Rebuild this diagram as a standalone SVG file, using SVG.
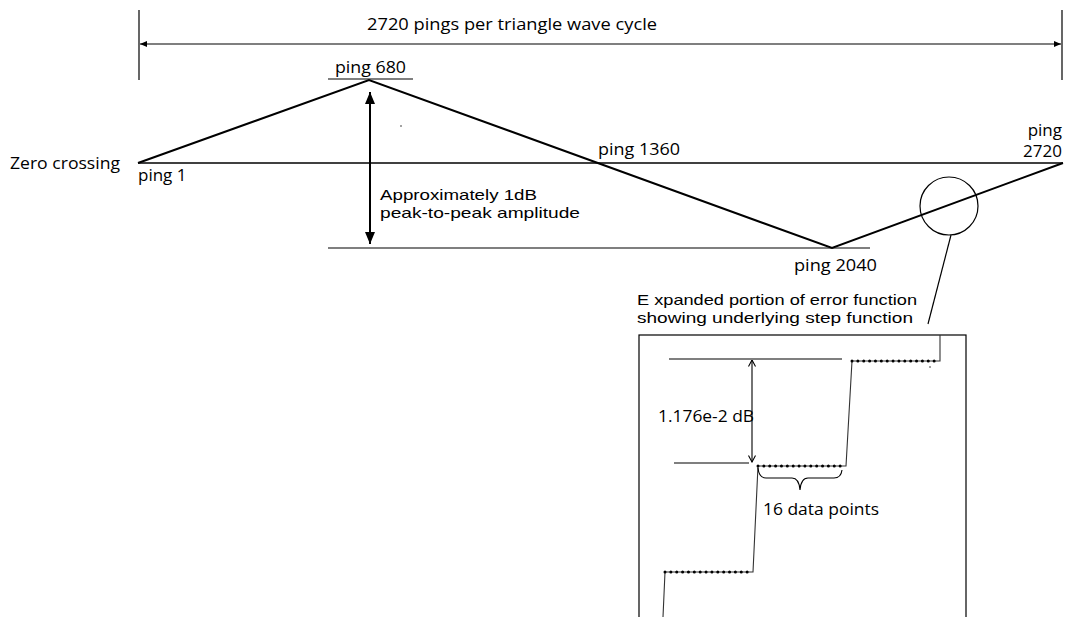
<svg xmlns="http://www.w3.org/2000/svg" width="1069" height="617" viewBox="0 0 1069 617">
<style>
text{font-family:"Open Sans","Liberation Sans",sans-serif;fill:#000}
.t17{font-size:17px}
.t16{font-size:16px}
.tl{font-family:"Liberation Sans",Arial,sans-serif;font-size:15px}
.thin{stroke:#000;stroke-width:1.2;fill:none}
.mid{stroke:#000;stroke-width:1.6;fill:none}
.thick{stroke:#000;stroke-width:2;fill:none}
.dots{stroke:#000;stroke-width:3;stroke-linecap:round;stroke-dasharray:0 5.867;fill:none}
</style>
<defs>
<marker id="smallHead" viewBox="0 0 8 8" refX="7" refY="4" markerWidth="8" markerHeight="8" markerUnits="userSpaceOnUse" orient="auto-start-reverse">
<path d="M0,1 L7,4 L0,7 Z" fill="#000"/>
</marker>
<marker id="bigHead" viewBox="0 0 12 12" refX="12" refY="6" markerWidth="12" markerHeight="12" markerUnits="userSpaceOnUse" orient="auto-start-reverse">
<path d="M0,1 L12,6 L0,11 Z" fill="#000"/>
</marker>
<marker id="openHead" viewBox="0 0 8 8" refX="7.5" refY="4" markerWidth="8" markerHeight="8" markerUnits="userSpaceOnUse" orient="auto-start-reverse">
<path d="M1,0.5 L7.5,4 L1,7.5" fill="none" stroke="#000" stroke-width="1.1"/>
</marker>
</defs>

<g id="cycle-span">
<line class="thin" x1="139" y1="10" x2="139" y2="80"/>
<line class="thin" x1="1062" y1="10" x2="1062" y2="80"/>
<line x1="140" y1="44" x2="1061" y2="44" stroke="#555" stroke-width="1.4" marker-start="url(#smallHead)" marker-end="url(#smallHead)"/>
<text class="t17" x="367" y="30" textLength="290" lengthAdjust="spacingAndGlyphs">2720 pings per triangle wave cycle</text>
</g>

<g id="waveform">
<line class="mid" x1="138" y1="163" x2="1063" y2="163"/>
<polyline class="thick" points="138,163 369,80 832,248 1063,163"/>
<line class="thin" x1="328" y1="79" x2="413" y2="79"/>
<line class="thin" x1="328" y1="248" x2="870" y2="248"/>
<circle cx="401" cy="126" r="0.7" fill="#000"/>
</g>

<g id="labels">
<text class="t17" x="10" y="169" textLength="110" lengthAdjust="spacingAndGlyphs">Zero crossing</text>
<text class="t17" x="138" y="181">ping 1</text>
<text class="t17" x="335" y="73" textLength="71" lengthAdjust="spacingAndGlyphs">ping 680</text>
<text class="t17" x="598" y="155" textLength="82" lengthAdjust="spacingAndGlyphs">ping 1360</text>
<text class="t17" x="1062" y="136" text-anchor="end">ping</text>
<text class="t17" x="1062" y="157" text-anchor="end">2720</text>
<text class="t17" x="794" y="271" textLength="83" lengthAdjust="spacingAndGlyphs">ping 2040</text>
<text class="tl" x="380" y="200" textLength="157" lengthAdjust="spacingAndGlyphs">Approximately 1dB</text>
<text class="tl" x="380" y="217.5" textLength="200" lengthAdjust="spacingAndGlyphs">peak-to-peak amplitude</text>
</g>

<g id="amplitude-arrow">
<line x1="370" y1="92" x2="370" y2="244" stroke="#000" stroke-width="2" marker-start="url(#bigHead)" marker-end="url(#bigHead)"/>
</g>

<g id="magnifier">
<circle class="thin" cx="949" cy="206" r="29"/>
<line class="thin" x1="951" y1="235" x2="928" y2="324"/>
<text class="tl" x="637" y="305" textLength="280" lengthAdjust="spacingAndGlyphs">E xpanded portion of error function</text>
<text class="tl" x="637" y="322.5" textLength="276" lengthAdjust="spacingAndGlyphs">showing underlying step function</text>
</g>

<g id="expanded-view">
<rect x="639" y="335" width="327" height="290" fill="none" stroke="#000" stroke-width="1.2"/>
<line class="thin" x1="669" y1="359" x2="842" y2="359"/>
<line class="thin" x1="674" y1="463" x2="749" y2="463"/>
<line x1="752" y1="360" x2="752" y2="462" stroke="#000" stroke-width="1.1" marker-start="url(#openHead)" marker-end="url(#openHead)"/>
<text class="t16" x="658" y="422" textLength="96" lengthAdjust="spacingAndGlyphs">1.176e-2 dB</text>
<path d="M663,617 L665,572 L753,572 L758,466 L846,466 L852,361 L940,361 L940,335" fill="none" stroke="#333" stroke-width="1.1"/>
<line class="dots" x1="665" y1="572" x2="753" y2="572"/>
<line class="dots" x1="758" y1="466" x2="846" y2="466"/>
<line class="dots" x1="852" y1="361" x2="940" y2="361"/>
<circle cx="930" cy="367" r="0.7" fill="#000"/>
<path d="M758,468 Q759,478 766,478 L792,478 Q799,478 800,490 Q801,478 808,478 L834,478 Q841,478 842,470" fill="none" stroke="#000" stroke-width="1.1"/>
<text class="t16" x="763" y="515" textLength="116" lengthAdjust="spacingAndGlyphs">16 data points</text>
</g>
</svg>
